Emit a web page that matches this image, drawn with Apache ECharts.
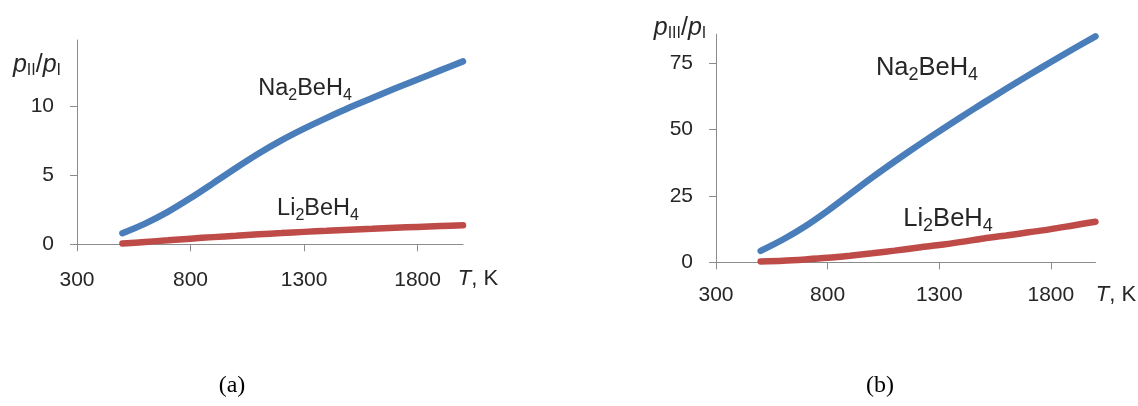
<!DOCTYPE html>
<html>
<head>
<meta charset="utf-8">
<script src="https://cdn.jsdelivr.net/npm/echarts@6/dist/echarts.min.js"></script>
<style>
html,body{margin:0;padding:0;background:#fff;}
#c{width:1138px;height:406px;}
</style>
</head>
<body>
<div id="c"></div>
<script>
// Temperatures (K)
var temps = [500, 600, 700, 800, 900, 1000, 1100, 1200, 1300, 1400, 1500, 1600, 1700, 1800, 1900, 2000];
// (a) p_II / p_I
var naRatioII = [0.8, 1.5, 2.35, 3.35, 4.43, 5.53, 6.58, 7.53, 8.38, 9.16, 9.91, 10.6, 11.28, 11.94, 12.6, 13.25];
var liRatioII = [0.05, 0.17, 0.29, 0.41, 0.52, 0.62, 0.72, 0.81, 0.9, 0.98, 1.06, 1.13, 1.2, 1.26, 1.32, 1.38];
// (b) p_III / p_I
var naRatioIII = [4.3, 8.6, 13.6, 19.4, 25.7, 32.0, 38.0, 43.8, 49.4, 54.9, 60.2, 65.4, 70.5, 75.5, 80.4, 85.2];
var liRatioIII = [0.3, 0.6, 1.1, 1.7, 2.5, 3.4, 4.4, 5.5, 6.5, 7.7, 9.0, 10.1, 11.3, 12.5, 13.9, 15.3];
// tick labels
var xTicks = [300, 800, 1300, 1800];
var yTicksA = [0, 5, 10];
var yTicksB = [0, 25, 50, 75];

function pairs(xs, ys) { return xs.map(function (x, i) { return [x, ys[i]]; }); }

var FONT = 'Liberation Sans';
var TXT = '#262626';
var AX = '#8c8c8c';
var BLUE = '#4a7ebb';
var RED = '#be4b48';

function xAxis(gi, margin) {
  return {
    type: 'value', gridIndex: gi, min: 300, max: 2000, interval: 500,
    axisLine: { show: true, lineStyle: { color: AX, width: 1 } },
    axisTick: { show: true, length: 7, lineStyle: { color: AX }, customValues: xTicks },
    axisLabel: { customValues: xTicks, margin: margin, fontFamily: FONT, fontSize: 21, color: TXT,
      formatter: function (v) { return String(v); } },
    splitLine: { show: false }
  };
}
function yAxis(gi, max, interval, ticks) {
  return {
    type: 'value', gridIndex: gi, min: 0, max: max, interval: interval,
    axisLine: { show: true, lineStyle: { color: AX, width: 1 } },
    axisTick: { show: true, length: 7, lineStyle: { color: AX }, customValues: ticks },
    axisLabel: { customValues: ticks, margin: 23, fontFamily: FONT, fontSize: 21, color: TXT,
      formatter: function (v) { return String(v); } },
    splitLine: { show: false }
  };
}
function line(gi, data, color) {
  return {
    type: 'line', xAxisIndex: gi, yAxisIndex: gi, data: data, smooth: 0.3,
    showSymbol: false, symbol: 'none',
    lineStyle: { color: color, width: 6.5, cap: 'round' }, z: 3
  };
}

function richF(size) {
  return {
    n: { fontFamily: FONT, fontSize: size, color: TXT },
    s: { fontFamily: FONT, fontSize: Math.round(size * 0.7), color: TXT, padding: [Math.round(size * 0.55), 0, 0, 0] }
  };
}
function richY(size) {
  return {
    i: { fontFamily: FONT, fontSize: size, fontStyle: 'italic', color: TXT },
    n: { fontFamily: FONT, fontSize: size, color: TXT },
    s: { fontFamily: FONT, fontSize: Math.round(size * 0.62), color: TXT, padding: [Math.round(size * 0.45), 0, 0, 0] }
  };
}
var richT = {
  i: { fontFamily: FONT, fontSize: 22, fontStyle: 'italic', color: TXT },
  n: { fontFamily: FONT, fontSize: 22, color: TXT }
};
function txt(x, y, s, rich, align) {
  return { type: 'text', x: x, y: y, style: { text: s, rich: rich, align: align || 'center', verticalAlign: 'middle', font: '21px ' + FONT, fill: TXT } };
}

var chart = echarts.init(document.getElementById('c'), null, { renderer: 'canvas' });
chart.setOption({
  animation: false,
  backgroundColor: '#fff',
  grid: [
    { left: 77, top: 40, width: 386, height: 204.3 },
    { left: 716, top: 34.2, width: 379.5, height: 228.1 }
  ],
  xAxis: [xAxis(0, 25), xAxis(1, 22)],
  yAxis: [yAxis(0, 14.8, 5, yTicksA), yAxis(1, 86, 25, yTicksB)],
  series: [
    line(0, pairs(temps, naRatioII), BLUE),
    line(0, pairs(temps, liRatioII), RED),
    line(1, pairs(temps, naRatioIII), BLUE),
    line(1, pairs(temps, liRatioIII), RED)
  ],
  graphic: [
    txt(305, 89, '{n|Na}{s|2}{n|BeH}{s|4}', richF(23.5)),
    txt(318, 209, '{n|Li}{s|2}{n|BeH}{s|4}', richF(23.5)),
    txt(927, 68, '{n|Na}{s|2}{n|BeH}{s|4}', richF(25.5)),
    txt(948, 219, '{n|Li}{s|2}{n|BeH}{s|4}', richF(25.5)),
    txt(37, 65, '{i|p}{s|II}{n|/}{i|p}{s|I}', richY(25)),
    txt(680, 28, '{i|p}{s|III}{n|/}{i|p}{s|I}', richY(25)),
    txt(478, 279, '{i|T}{n|, K}', richT),
    txt(1116, 295, '{i|T}{n|, K}', richT),
    { type: 'text', x: 232, y: 386, style: { text: '(a)', font: '24px "Liberation Serif"', fill: '#000', align: 'center', verticalAlign: 'middle' } },
    { type: 'text', x: 880, y: 386, style: { text: '(b)', font: '24px "Liberation Serif"', fill: '#000', align: 'center', verticalAlign: 'middle' } }
  ]
});
</script>
</body>
</html>
